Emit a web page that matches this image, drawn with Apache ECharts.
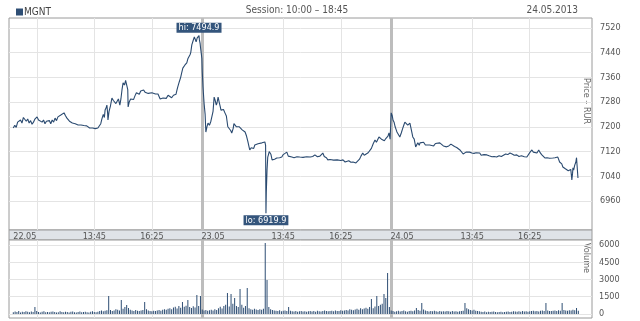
<!DOCTYPE html>
<html><head><meta charset="utf-8">
<script src="https://cdn.jsdelivr.net/npm/echarts@6/dist/echarts.min.js"></script>
<style>html,body{margin:0;padding:0;background:#fff}#c{width:640px;height:321px}</style>
</head><body><div id="c"></div>
<script>
// x = minutes of trading time since 22.05 10:00 (each session 10:00-18:45 = 525 min)
const sessionMinutes = 525;
const priceDay1 = [[0,7196],[4,7205],[8,7198],[12,7215],[16,7210],[20,7222],[24,7212],[28,7230],[32,7228],[36,7218],[40,7225],[44,7212],[48,7220],[52,7208],[56,7215],[60,7225],[66,7232],[70,7222],[74,7228],[80,7215],[84,7222],[88,7210],[92,7218],[96,7212],[100,7220],[104,7210],[108,7222],[112,7215],[116,7228],[120,7220],[124,7232],[128,7226],[132,7238],[136,7232],[141,7245],[145,7236],[149,7228],[152,7222],[156,7218],[160,7214],[164,7212],[168,7208],[172,7210],[176,7205],[180,7206],[184,7202],[188,7206],[192,7200],[196,7204],[200,7198],[204,7203],[207,7199],[212,7196],[216,7202],[220,7196],[224,7200],[228,7194],[232,7198],[235,7196],[240,7200],[243,7210],[246,7225],[250,7240],[253,7230],[255,7254],[258,7262],[260,7270],[262,7245],[263,7222],[266,7250],[270,7268],[274,7293],[278,7285],[282,7290],[285,7275],[288,7280],[292,7290],[296,7270],[299,7290],[302,7320],[305,7342],[309,7335],[312,7350],[316,7345],[318,7320],[319,7264],[322,7280],[326,7290],[330,7296],[334,7288],[338,7300],[342,7310],[346,7313],[350,7305],[354,7316],[358,7310],[362,7319],[366,7312],[370,7310],[375,7308],[380,7312],[385,7310],[390,7308],[395,7306],[400,7309],[402,7306],[405,7298],[408,7290],[412,7296],[416,7293],[420,7298],[425,7292],[430,7302],[435,7300],[440,7294],[445,7302],[449,7296],[452,7305],[455,7320],[457,7329],[461,7345],[465,7360],[468,7375],[471,7390],[474,7386],[477,7400],[480,7398],[482,7407],[485,7420],[488,7415],[491,7433],[493,7440],[496,7465],[498,7460],[500,7480],[503,7491],[506,7485],[508,7475],[511,7488],[516,7494.9],[517,7482],[519,7470],[520,7458],[522,7440],[524,7420]];
const priceDay2 = [[525,7380],[527,7330],[530,7277],[533,7240],[535,7183],[538,7200],[541,7212],[545,7205],[549,7218],[552,7222],[555,7250],[558,7296],[561,7285],[564,7270],[566,7277],[569,7296],[572,7280],[575,7265],[577,7254],[580,7250],[584,7256],[588,7245],[592,7235],[596,7200],[600,7195],[604,7188],[607,7180],[611,7195],[613,7210],[616,7206],[620,7200],[624,7196],[628,7200],[632,7195],[636,7190],[640,7186],[644,7183],[648,7170],[652,7151],[655,7135],[657,7125],[661,7132],[665,7138],[668,7130],[671,7141],[675,7138],[680,7145],[685,7140],[691,7148],[695,7145],[699,7151],[701,7140],[702,6919.9],[703,6990],[705,7060],[707,7102],[709,7110],[711,7120],[713,7125],[716,7110],[719,7093],[722,7098],[726,7095],[732,7099],[736,7096],[740,7100],[746,7102],[750,7110],[755,7108],[760,7118],[764,7105],[768,7102],[774,7102],[780,7100],[788,7103],[796,7102],[805,7101],[815,7103],[825,7102],[832,7104],[838,7109],[845,7103],[852,7105],[860,7115],[864,7104],[870,7100],[874,7093],[880,7094],[890,7092],[900,7093],[910,7091],[916,7093],[922,7086],[927,7083],[932,7090],[938,7085],[944,7086],[948,7092],[952,7083],[957,7083],[962,7095],[966,7105],[971,7115],[975,7108],[980,7112],[986,7116],[991,7118],[995,7130],[1000,7145],[1005,7157],[1009,7150],[1013,7160],[1016,7167],[1019,7167],[1023,7160],[1027,7165],[1031,7155],[1035,7162],[1038,7157],[1041,7170],[1044,7180],[1047,7160]];
const priceDay3 = [[1050,7245],[1053,7235],[1055,7222],[1058,7215],[1061,7200],[1064,7190],[1066,7183],[1070,7175],[1074,7167],[1078,7180],[1082,7195],[1085,7205],[1088,7215],[1092,7210],[1096,7205],[1099,7210],[1102,7212],[1106,7190],[1110,7167],[1114,7160],[1118,7135],[1121,7140],[1124,7148],[1128,7140],[1130,7148],[1135,7145],[1140,7150],[1145,7141],[1150,7146],[1157,7141],[1162,7143],[1168,7138],[1173,7146],[1178,7140],[1185,7148],[1190,7142],[1195,7138],[1200,7140],[1204,7135],[1210,7138],[1216,7144],[1221,7141],[1226,7136],[1232,7133],[1237,7130],[1241,7125],[1246,7120],[1250,7112],[1254,7109],[1258,7118],[1262,7116],[1268,7118],[1274,7115],[1280,7114],[1286,7116],[1291,7112],[1296,7115],[1300,7108],[1304,7102],[1308,7110],[1312,7112],[1316,7109],[1322,7106],[1330,7103],[1336,7104],[1343,7102],[1350,7106],[1356,7104],[1362,7108],[1368,7112],[1374,7110],[1380,7115],[1386,7112],[1392,7108],[1399,7109],[1405,7104],[1412,7106],[1420,7103],[1427,7102],[1432,7106],[1436,7118],[1441,7125],[1445,7118],[1450,7112],[1455,7115],[1460,7125],[1463,7118],[1468,7110],[1472,7104],[1477,7099],[1483,7100],[1490,7098],[1499,7099],[1505,7100],[1510,7103],[1513,7102],[1516,7096],[1518,7086],[1521,7092],[1524,7080],[1527,7070],[1530,7068],[1534,7064],[1538,7060],[1542,7058],[1546,7054],[1549,7062],[1551,7040],[1552,7028],[1554,7050],[1555,7067],[1557,7060],[1560,7076],[1563,7085],[1565,7100],[1566,7102],[1568,7099],[1569,7034]];

// volume per 5-minute bin, one array per session
const volumeStep = 5;
const volDay1 = [150,220,180,260,140,200,170,230,190,160,210,180,600,250,170,140,200,230,160,180,150,190,210,170,140,160,230,180,150,200,170,140,190,220,160,130,180,210,150,170,190,160,140,200,230,170,150,190,260,300,240,280,320,1560,350,260,300,420,380,300,1220,450,600,780,520,380,300,260,340,280,250,300,350,1040,420,300,260,230,280,250,300,340,280,360,420,380,450,500,420,560,620,480,700,550,1040,640,720,1220,600,520,680,560,1650,700,1560];
const volDay2 = [400,300,350,280,320,380,300,420,350,500,620,480,700,800,1830,650,1740,900,1390,700,600,2170,800,550,700,2260,500,420,380,450,400,350,420,380,450,6170,2960,600,420,350,300,280,260,320,240,280,300,260,600,280,240,220,260,200,230,250,210,240,200,230,260,220,250,200,280,240,220,260,300,250,230,260,280,240,300,270,250,320,280,300,350,300,420,380,330,400,450,380,500,420,480,550,450,600,1300,500,650,1560,700,800,900,1740,1390,3570,600];
const volDay3 = [300,250,200,240,280,220,260,300,240,200,250,280,230,300,520,350,280,960,400,300,250,220,260,240,280,230,200,250,220,240,210,260,230,200,250,220,240,200,230,260,280,960,500,420,350,300,380,280,250,230,200,180,220,160,200,170,190,210,180,160,180,200,150,170,190,220,180,200,240,210,190,230,200,260,220,240,200,230,250,280,240,260,220,280,300,250,960,300,270,250,280,300,260,320,280,960,350,300,280,330,300,360,320,520,280];

const priceTicks = [6960,7040,7120,7200,7280,7360,7440,7520];
const volumeTicks = [0,1500,3000,4500,6000];
const timeTickValues = [32,225,385,555,750,910,1080,1275,1435];
const timeTickLabels = ['22.05','13:45','16:25','23.05','13:45','16:25','24.05','13:45','16:25'];
const gridXValues = [66,225,385,750,910,1275,1435];
const sessionBreaks = [525,1050];

const priceData = priceDay1.concat(priceDay2, priceDay3);
const volumeData = [];
[volDay1, volDay2, volDay3].forEach((arr, d) => arr.forEach((v, i) => volumeData.push([d*sessionMinutes + i*volumeStep, v])));
let hi = priceData[0], lo = priceData[0];
priceData.forEach(p => { if (p[1] > hi[1]) hi = p; if (p[1] < lo[1]) lo = p; });

const FONT = "'Liberation Sans Narrow','DejaVu Sans Condensed','Liberation Sans',sans-serif";
const gridLine = {color:'#e4e4e4', width:1, type:'solid'};
const breakLine = {color:'#bdbdbd', width:3, type:'solid'};
function vLines(){ return gridXValues.map(v=>({xAxis:v, lineStyle:gridLine})).concat(sessionBreaks.map(v=>({xAxis:v, lineStyle:breakLine}))); }
const plain = v => String(v);

const chart = echarts.init(document.getElementById('c'), null, {renderer:'canvas'});
chart.setOption({
  animation:false,
  textStyle:{fontFamily:FONT},
  legend:{data:['MGNT'], left:11, top:2, icon:'rect', itemWidth:7, itemHeight:7, itemGap:2, textStyle:{fontSize:10, color:'#444', fontFamily:FONT, padding:[0,0,0,-4]}},
  graphic:[
    {type:'text', x:297, y:5, style:{text:'Session: 10:00 \u2013 18:45', fill:'#555', font:'10px '+FONT, textAlign:'center'}},
    {type:'text', right:62, top:5, style:{text:'24.05.2013', fill:'#555', font:'10px '+FONT}},
    {type:'text', x:591, y:78, rotation:-Math.PI/2, style:{text:'Price \u2013 RUR', fill:'#666', font:'9px '+FONT}},
    {type:'text', x:591, y:243, rotation:-Math.PI/2, style:{text:'Volume', fill:'#666', font:'9px '+FONT}}
  ],
  grid:[
    {left:9, right:48, top:18, height:212, show:true, borderColor:'#9a9a9a', borderWidth:1, backgroundColor:'#fff'},
    {left:9, right:48, top:230, height:10, show:true, borderColor:'#9a9a9a', borderWidth:1, backgroundColor:'#dfe3e8'},
    {left:9, right:48, top:240, height:78, show:true, borderColor:'#9a9a9a', borderWidth:1, backgroundColor:'#fff'}
  ],
  xAxis:[
    {type:'value', gridIndex:0, min:-12, max:1608, position:'bottom', splitLine:{show:false}, axisLine:{show:false}, axisTick:{show:false},
      axisLabel:{customValues:timeTickValues, margin:2, fontSize:9, color:'#555', fontFamily:FONT, formatter:v=>{const i=timeTickValues.indexOf(v);return i>=0?timeTickLabels[i]:'';}}},
    {type:'value', gridIndex:1, min:-12, max:1608, show:false},
    {type:'value', gridIndex:2, min:-12, max:1608, show:false, splitLine:{show:false}}
  ],
  yAxis:[
    {type:'value', gridIndex:0, position:'right', min:6866, max:7552, splitLine:{show:false}, axisLine:{show:false}, axisTick:{show:false},
      axisLabel:{customValues:priceTicks, margin:8, fontSize:9, color:'#555', fontFamily:FONT, formatter:plain}},
    {type:'value', gridIndex:1, min:0, max:1, show:false},
    {type:'value', gridIndex:2, position:'right', min:-348, max:6435, splitLine:{show:false}, axisLine:{show:false}, axisTick:{show:false},
      axisLabel:{customValues:volumeTicks, margin:7, fontSize:9, color:'#555', fontFamily:FONT, formatter:plain}}
  ],
  series:[
    {name:'MGNT', type:'line', xAxisIndex:0, yAxisIndex:0, data:priceData, showSymbol:false, symbol:'none', color:'#2e4e74',
      lineStyle:{width:1.1, color:'#2a4a70'}, z:5,
      markLine:{silent:true, symbol:'none', label:{show:false}, animation:false, z:1,
        data: priceTicks.map(v=>({yAxis:v, lineStyle:gridLine})).concat(vLines())},
      markPoint:{symbol:'rect', symbolSize:0, animation:false, z:10,
        data:[
          {coord:hi, label:{show:true, position:'top', distance:3, formatter:'hi: '+hi[1].toFixed(1)}},
          {coord:lo, label:{show:true, position:'bottom', distance:2, formatter:'lo: '+lo[1].toFixed(1)}}
        ],
        label:{color:'#fff', backgroundColor:'#34557c', padding:[1,2,0,2], fontSize:9, fontFamily:FONT}}
    },
    {name:'Volume', type:'bar', xAxisIndex:2, yAxisIndex:2, data:volumeData, barWidth:1, color:'#2e4e74', z:5,
      markLine:{silent:true, symbol:'none', label:{show:false}, animation:false, z:1,
        data: volumeTicks.map(v=>({yAxis:v, lineStyle:gridLine})).concat(vLines())}
    }
  ]
});
</script></body></html>
